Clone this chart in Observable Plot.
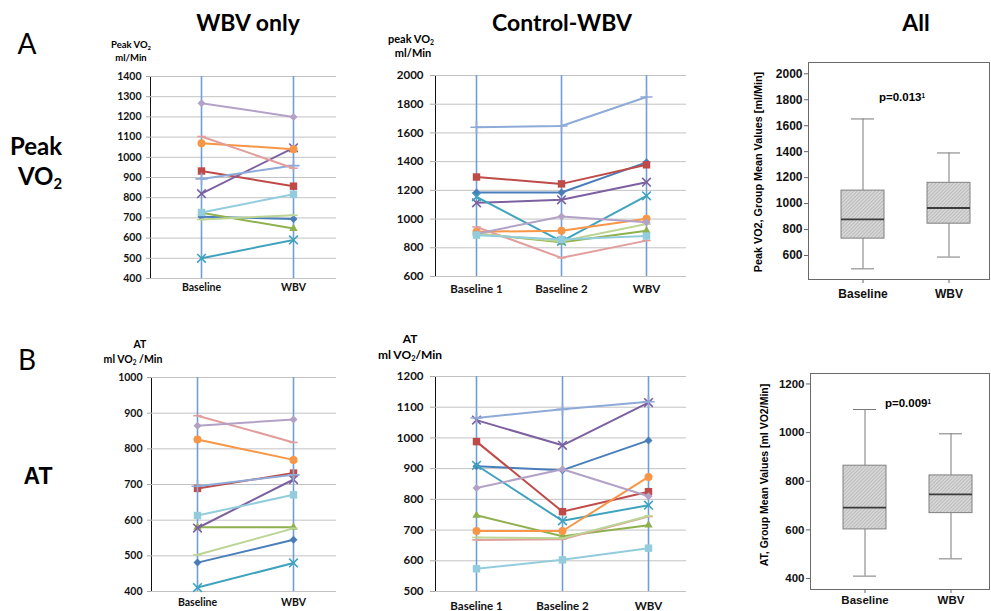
<!DOCTYPE html>
<html><head><meta charset="utf-8">
<script src="https://cdn.jsdelivr.net/npm/d3@7"></script>
<script src="https://cdn.jsdelivr.net/npm/@observablehq/plot@0.6"></script>
<style>
body{margin:0;background:#fff;}
#root{position:relative;width:991px;height:611px;overflow:hidden;background:#fff;font-family:Lato,"Open Sans",sans-serif;color:#000;}
.p{position:absolute;}
.t{position:absolute;white-space:nowrap;transform:translate(-50%,-50%);line-height:1;}
.t sub{font-size:0.62em;vertical-align:-0.3em;line-height:0;}
.t sup{font-size:0.55em;vertical-align:0.55em;line-height:0;}
</style></head><body><div id="root"></div>
<script>
// ---------- data ----------
const seriesNames = ["S1","S2","S3","S4","S5","S6","S7","S8","S9","S10","S11"];
const catsTwo = ["Baseline","WBV"];
const catsThree = ["Baseline 1","Baseline 2","WBV"];

// Peak VO2 (ml/Min), WBV only group
const peakWbvBaseline = [706, 932, 725, 820, 500, 1070, 893, 1103, 692, 1268, 727];
const peakWbvAfter    = [695, 857, 647, 1047, 591, 1040, 959, 946, 713, 1200, 817];
// Peak VO2 (ml/Min), Control-WBV group
const peakCtrlBase1 = [1185, 1293, 900, 1113, 1155, 912, 1640, 945, 898, 898, 888];
const peakCtrlBase2 = [1185, 1245, 838, 1134, 845, 918, 1648, 730, 845, 1018, 858];
const peakCtrlWbv   = [1395, 1378, 918, 1257, 1162, 1002, 1850, 850, 965, 978, 882];
// AT (ml VO2/Min), WBV only group
const atWbvBaseline = [481, 689, 580, 578, 411, 826, 695, 893, 503, 865, 613];
const atWbvAfter    = [545, 732, 580, 714, 480, 769, 727, 818, 577, 882, 671];
// AT (ml VO2/Min), Control-WBV group
const atCtrlBase1 = [908, 988, 748, 1058, 911, 697, 1065, 668, 676, 837, 574];
const atCtrlBase2 = [895, 760, 680, 976, 730, 697, 1093, 670, 673, 898, 603];
const atCtrlWbv   = [992, 825, 716, 1115, 781, 873, 1118, 744, 746, 810, 641];

// Box plots, all subjects
const boxGroups = ["Baseline","WBV"];
const peakMin = [497, 588];
const peakQ1  = [730, 845];
const peakMed = [878, 966];
const peakQ3  = [1100, 1160];
const peakMax = [1652, 1390];
const atMin = [410, 481];
const atQ1  = [602, 669];
const atMed = [692, 746];
const atQ3  = [864, 824];
const atMax = [1095, 995];

// tick values
const peakWbvTicks  = [400,500,600,700,800,900,1000,1100,1200,1300,1400];
const peakCtrlTicks = [600,800,1000,1200,1400,1600,1800,2000];
const atWbvTicks    = [400,500,600,700,800,900,1000];
const atCtrlTicks   = [500,600,700,800,900,1000,1100,1200];
const peakBoxTicks  = [600,800,1000,1200,1400,1600,1800,2000];
const atBoxTicks    = [400,600,800,1000,1200];

// ---------- styles ----------
const seriesColors = ["#4a7ebb","#be4b48","#8fb14e","#7d60a0","#3fa3bd","#f79646","#8eaad8","#e29e9c","#bcd595","#b3a2c7","#93cddd"];
const seriesSymbols = ["diamond2","square","triangle","times","times","circle","plus","dash","dash","diamond2","square"];
const symbolR = {diamond2:3.6, square:4.2, triangle:3.1, times:4, circle:4, plus:4, dash:4};
const dashSymbol = {draw(ctx, size){ const w = Math.sqrt(size)*0.6; ctx.moveTo(-w,0); ctx.lineTo(w,0); }};
const gridColor = "#c3c3c3";
const catLineColor = "#6e9fda";
const plain = d => String(d);

const root = document.getElementById("root");

function place(node, left, top){
  const d = document.createElement("div");
  d.className = "p"; d.style.left = left+"px"; d.style.top = top+"px";
  d.appendChild(node); root.appendChild(d);
}
function txt(x, y, html, css){
  const d = document.createElement("div");
  d.className = "t"; d.style.left = x+"px"; d.style.top = y+"px";
  d.innerHTML = html; Object.assign(d.style, css || {});
  root.appendChild(d);
}
function greyAxes(svg, color){
  d3.select(svg).selectAll('[aria-label*="axis"] line, [aria-label*="axis"] path, line[aria-label*="axis"], path[aria-label*="axis"]')
    .attr("stroke", color);
}

function linePanel(cfg){
  const rows = [];
  seriesNames.forEach((s,i)=>cfg.cats.forEach((c,j)=>rows.push({s, i, c, v: cfg.values[j][i]})));
  const marks = [
    Plot.ruleY(cfg.yTicks, {stroke: gridColor, strokeWidth: 1}),
    Plot.ruleX(cfg.cats, {stroke: catLineColor, strokeWidth: 1.6})
  ];
  seriesNames.forEach((s,i)=>{
    const d = rows.filter(r=>r.i===i);
    const sym = seriesSymbols[i];
    const isStroke = ["times","plus","dash"].includes(sym);
    marks.push(Plot.line(d, {x:"c", y:"v", stroke: seriesColors[i], strokeWidth: 2}));
    marks.push(Plot.dot(d, {x:"c", y:"v", symbol: sym==="dash" ? dashSymbol : sym, r: symbolR[sym],
      fill: isStroke ? "none" : seriesColors[i], stroke: isStroke ? seriesColors[i] : "none", strokeWidth: 1.6}));
  });
  const svg = Plot.plot({
    width: cfg.width, height: cfg.height,
    marginLeft: cfg.ml, marginRight: 0, marginTop: cfg.mt, marginBottom: cfg.mb,
    style: {fontFamily: "Lato, 'Open Sans', sans-serif", fontWeight: "bold", fontSize: cfg.fs+"px", color: "#111", background: "none", overflow: "visible"},
    x: {type: "point", domain: cfg.cats, range: cfg.xRange, padding: 0, tickSize: 0, tickPadding: cfg.xPad, label: null},
    y: {domain: cfg.yDomain, ticks: cfg.yTicks, tickFormat: plain, tickSize: cfg.ts, tickPadding: cfg.tp, line: true, label: null},
    marks
  });
  greyAxes(svg, "#a8a8a8");
  place(svg, cfg.left, cfg.top);
}

function boxPanel(cfg){
  const stats = boxGroups.map((g,i)=>({g, min: cfg.min[i], q1: cfg.q1[i], med: cfg.med[i], q3: cfg.q3[i], max: cfg.max[i]}));
  const whisk = "#7a7a7a";
  const svg = Plot.plot({
    width: cfg.width, height: cfg.height,
    marginLeft: cfg.ml, marginRight: 2, marginTop: cfg.mt, marginBottom: cfg.mb,
    style: {fontFamily: "'Liberation Sans', Arial, sans-serif", fontWeight: "bold", fontSize: cfg.fs+"px", color: "#111", background: "none", overflow: "visible"},
    x: {type: "band", domain: boxGroups, range: cfg.xRange, padding: 0.5, tickSize: 4, tickPadding: cfg.xPad, label: null},
    y: {domain: cfg.yDomain, ticks: cfg.yTicks, tickFormat: plain, tickSize: 4, tickPadding: 2, label: null},
    marks: [
      Plot.ruleX(stats, {x:"g", y1:"min", y2:"q1", stroke: whisk, strokeWidth: 1}),
      Plot.ruleX(stats, {x:"g", y1:"q3", y2:"max", stroke: whisk, strokeWidth: 1}),
      Plot.tickY(stats, {x:"g", y:"min", insetLeft: 10, insetRight: 10, stroke: whisk, strokeWidth: 1}),
      Plot.tickY(stats, {x:"g", y:"max", insetLeft: 10, insetRight: 10, stroke: whisk, strokeWidth: 1}),
      Plot.barY(stats, {x:"g", y1:"q1", y2:"q3", fill: `url(#${cfg.pid})`, stroke: "#808080", strokeWidth: 1}),
      Plot.tickY(stats, {x:"g", y:"med", stroke: "#3a3a3a", strokeWidth: 1.8}),
      Plot.frame({stroke: "#6a6a6a", strokeWidth: 1})
    ]
  });
  d3.select(svg).insert("defs", ":first-child").html(
    `<pattern id="${cfg.pid}" patternUnits="userSpaceOnUse" width="2.5" height="2.5" patternTransform="rotate(45)">
       <rect width="2.5" height="2.5" fill="#d6d6d6"></rect>
       <line x1="0" y1="0" x2="0" y2="2.5" stroke="#a0a0a0" stroke-width="0.9"></line>
     </pattern>`);
  greyAxes(svg, "#666");
  place(svg, cfg.left, cfg.top);
}

// ---------- panels ----------
linePanel({left:100, top:60, width:236, height:248, ml:50, mt:16, mb:30, fs:10.5, ts:4, tp:5, xPad:5,
  cats: catsTwo, values: [peakWbvBaseline, peakWbvAfter], xRange:[101,193], yDomain:[400,1400], yTicks: peakWbvTicks});
linePanel({left:370, top:30, width:316, height:276, ml:65, mt:45, mb:30, fs:11.5, ts:5, tp:7, xPad:8,
  cats: catsThree, values: [peakCtrlBase1, peakCtrlBase2, peakCtrlWbv], xRange:[106,276], yDomain:[600,2000], yTicks: peakCtrlTicks});
linePanel({left:100, top:360, width:236, height:251, ml:51, mt:17, mb:20, fs:10.5, ts:4, tp:5, xPad:7,
  cats: catsTwo, values: [atWbvBaseline, atWbvAfter], xRange:[97,193], yDomain:[400,1000], yTicks: atWbvTicks});
linePanel({left:370, top:330, width:316, height:281, ml:65, mt:46, mb:20, fs:11.5, ts:5, tp:7, xPad:10,
  cats: catsThree, values: [atCtrlBase1, atCtrlBase2, atCtrlWbv], xRange:[106,278], yDomain:[500,1200], yTicks: atCtrlTicks});

boxPanel({left:720, top:45, width:271, height:265, ml:88, mt:17, mb:31, fs:12, xPad:6, pid:"hatchA",
  xRange:[77,293], yDomain:[415,2087], yTicks: peakBoxTicks,
  min: peakMin, q1: peakQ1, med: peakMed, q3: peakQ3, max: peakMax});
boxPanel({left:720, top:360, width:271, height:251, ml:90, mt:13, mb:22, fs:11.5, xPad:2, pid:"hatchB",
  xRange:[79,296], yDomain:[355,1243], yTicks: atBoxTicks,
  min: atMin, q1: atQ1, med: atMed, q3: atQ3, max: atMax});

// ---------- text ----------
const titleCss = {fontFamily:"Lato, sans-serif", fontWeight:"bold", fontSize:"23px"};
txt(248, 22, "WBV only", titleCss);
txt(562, 22, "Control-WBV", titleCss);
txt(916, 22, "All", titleCss);
txt(27, 43, "A", {fontFamily:"Lato, sans-serif", fontSize:"28px"});
txt(27, 359, "B", {fontFamily:"Lato, sans-serif", fontSize:"28px"});
txt(36, 146, "Peak", {fontFamily:"Lato, sans-serif", fontWeight:"bold", fontSize:"24px"});
txt(40, 176, "VO<sub>2</sub>", {fontFamily:"Lato, sans-serif", fontWeight:"bold", fontSize:"24px"});
txt(38, 476, "AT", {fontFamily:"'Liberation Sans', Arial, sans-serif", fontWeight:"bold", fontSize:"23px"});

const axCss = (fs)=>({fontFamily:"Lato, sans-serif", fontWeight:"bold", fontSize: fs+"px"});
txt(131, 45, "Peak VO<sub>2</sub>", axCss(9.5));
txt(131, 58, "ml/Min", axCss(9.5));
txt(411, 38, "peak VO<sub>2</sub>", axCss(11));
txt(413, 52, "ml/Min", axCss(11));
txt(140, 344, "AT", axCss(10.5));
txt(133, 359, "ml VO<sub>2</sub> /Min", axCss(10.5));
txt(410, 339, "AT", axCss(12));
txt(410, 355, "ml VO<sub>2</sub>/Min", axCss(12));

const boxCss = {fontFamily:"'Liberation Sans', Arial, sans-serif", fontWeight:"bold"};
txt(758, 172, "Peak VO2, Group Mean Values [ml/Min]", Object.assign({fontSize:"10.8px", transform:"translate(-50%,-50%) rotate(-90deg)"}, boxCss));
txt(764, 475, "AT, Group Mean Values [ml VO2/Min]", Object.assign({fontSize:"10.5px", transform:"translate(-50%,-50%) rotate(-90deg)"}, boxCss));
txt(902, 98, "p=0.013<sup>1</sup>", Object.assign({fontSize:"11.5px"}, boxCss));
txt(908, 404, "p=0.009<sup>1</sup>", Object.assign({fontSize:"11.5px"}, boxCss));
</script></body></html>
